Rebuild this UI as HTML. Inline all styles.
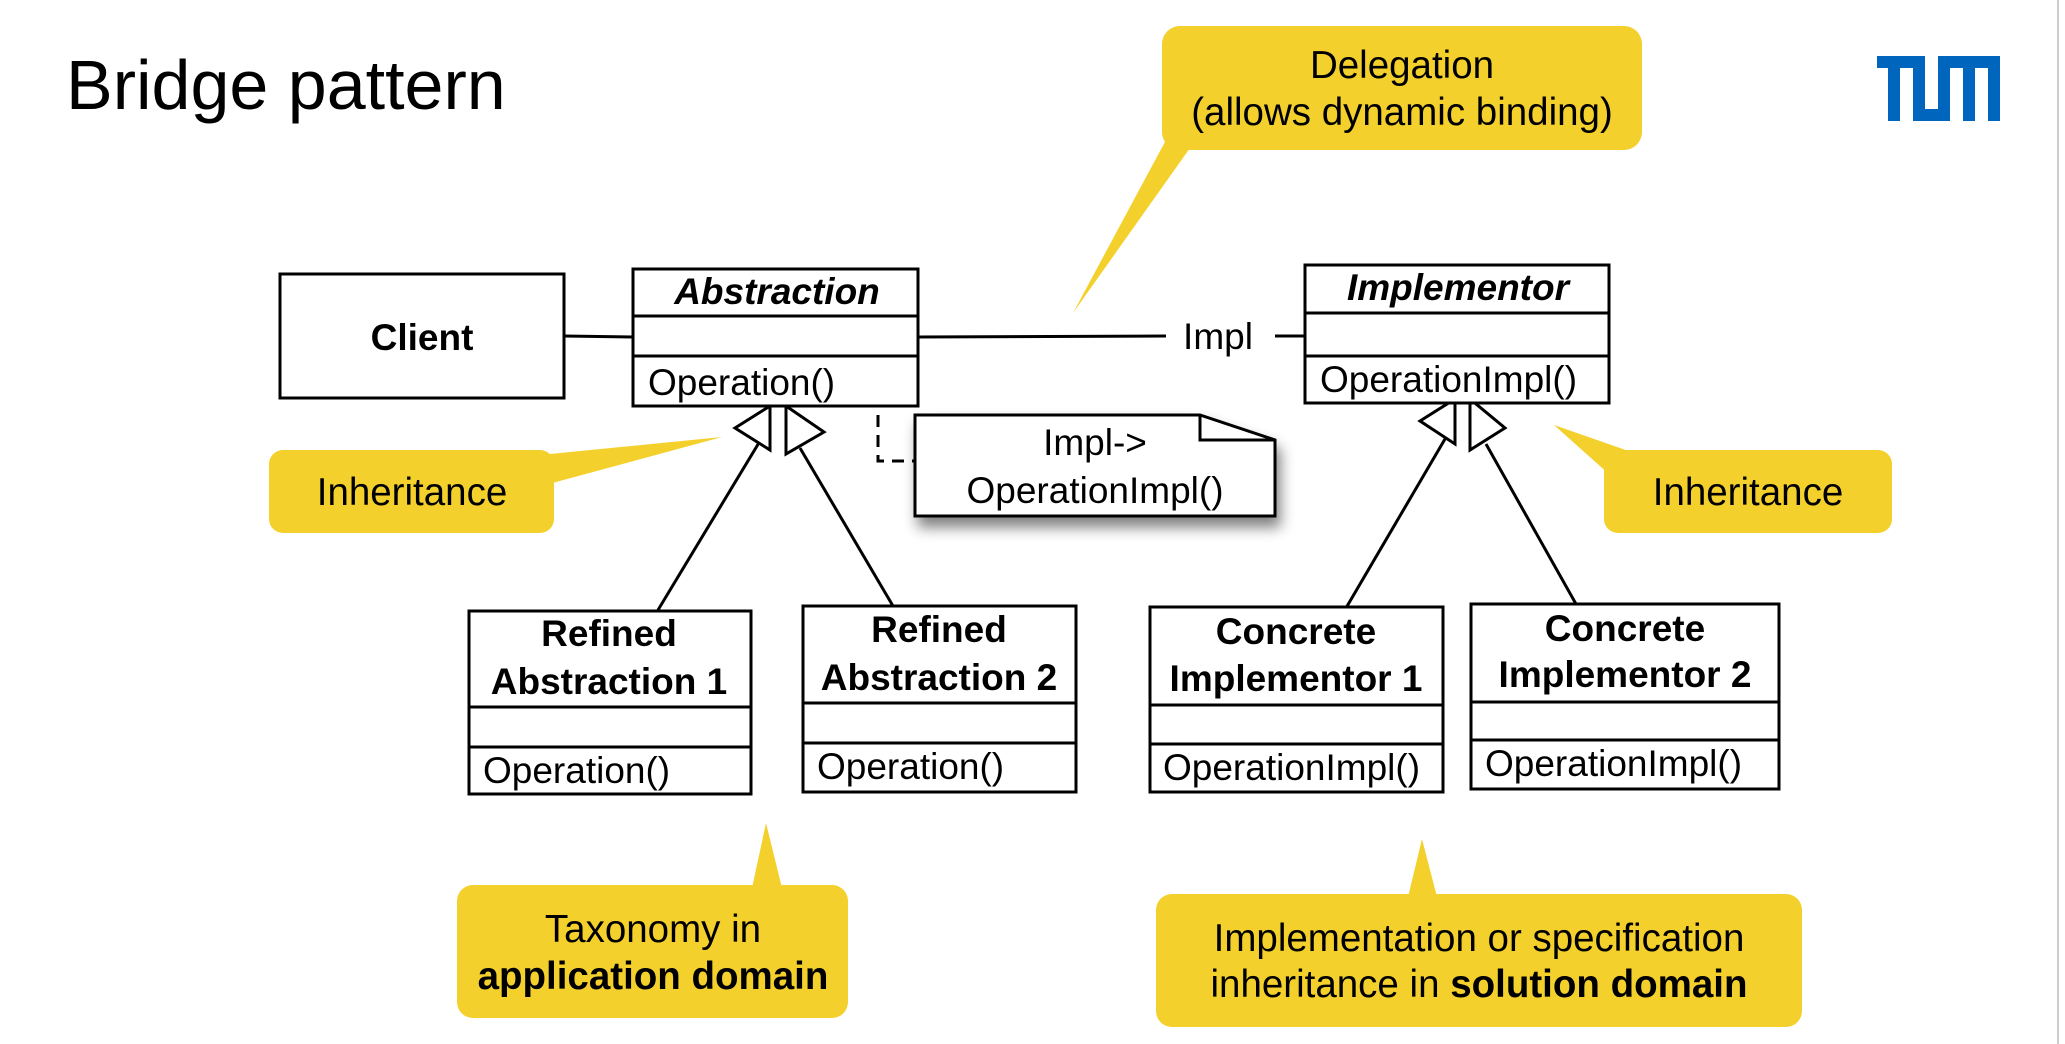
<!DOCTYPE html>
<html><head><meta charset="utf-8"><style>
html,body{margin:0;padding:0;background:#fff;}
svg{display:block;}
text{font-family:"Liberation Sans",Arial,sans-serif;}
</style></head><body>
<svg width="2065" height="1044" viewBox="0 0 2065 1044" xmlns="http://www.w3.org/2000/svg">
<defs>
<filter id="sh" x="-20%" y="-20%" width="150%" height="160%"><feGaussianBlur in="SourceAlpha" stdDeviation="7"/><feOffset dx="4" dy="10"/><feComponentTransfer><feFuncA type="linear" slope="0.5"/></feComponentTransfer><feMerge><feMergeNode/><feMergeNode in="SourceGraphic"/></feMerge></filter>
</defs>
<rect width="2065" height="1044" fill="#fff"/>
<line x1="2058" y1="0" x2="2058" y2="1044" stroke="#ccc" stroke-width="2"/>
<text x="66" y="109" font-size="70" fill="#000">Bridge pattern</text>
<g fill="#0065bd">
<rect x="1877" y="56" width="48" height="12"/>
<rect x="1888" y="56" width="12" height="65"/>
<rect x="1913" y="56" width="12" height="65"/>
<rect x="1913" y="109" width="37" height="12"/>
<rect x="1938" y="56" width="62" height="12"/>
<rect x="1938" y="56" width="12" height="65"/>
<rect x="1963" y="56" width="12" height="65"/>
<rect x="1988" y="56" width="12" height="65"/>
</g>
<g fill="#f4d02c">
<rect x="1162" y="26" width="480" height="124" rx="18"/>
<polygon points="1166,140 1190,148 1073,313"/>
<rect x="269" y="450" width="285" height="83" rx="14"/>
<polygon points="540,455 545,485 722,437"/>
<rect x="1604" y="450" width="288" height="83" rx="14"/>
<polygon points="1640,455 1610,475 1554,425"/>
<rect x="457" y="885" width="391" height="133" rx="16"/>
<polygon points="752,888 782,888 766,823"/>
<rect x="1156" y="894" width="646" height="133" rx="16"/>
<polygon points="1408,897 1437,897 1422,839"/>
</g>
<g font-size="38.5" fill="#000" text-anchor="middle">
<text x="1402" y="78">Delegation</text>
<text x="1402" y="125">(allows dynamic binding)</text>
<text x="412" y="505">Inheritance</text>
<text x="1748" y="505">Inheritance</text>
<text x="653" y="942">Taxonomy in</text>
<text x="653" y="989" font-weight="bold">application domain</text>
<text x="1479" y="951">Implementation or specification</text>
<text x="1479" y="997">inheritance in <tspan font-weight="bold">solution domain</tspan></text>
</g>
<g stroke="#000" stroke-width="3" fill="none">
<line x1="564" y1="336" x2="633" y2="337"/>
<line x1="918" y1="337" x2="1166" y2="336"/>
<line x1="1275" y1="336" x2="1306" y2="336"/>
<line x1="760" y1="441" x2="658" y2="610"/>
<line x1="800" y1="448" x2="893" y2="606"/>
<line x1="1445" y1="439" x2="1346" y2="608"/>
<line x1="1486" y1="444" x2="1576" y2="604"/>
<polyline points="878,395 878,461 915,461" stroke-dasharray="12,8"/>
<circle cx="878" cy="378" r="10" fill="#fff" stroke-width="2.5"/>
</g>
<g stroke="#000" stroke-width="3" fill="#fff">
<polygon points="770,406 770,450 735,428"/>
<polygon points="786,406 786,454 824,432"/>
<polygon points="1455,399 1455,444 1420,421"/>
<polygon points="1470,399 1470,450 1505,428"/>
</g>
<g filter="url(#sh)">
<path d="M915,415 L1200,415 L1275,440 L1275,516 L915,516 Z" fill="#fff" stroke="#000" stroke-width="3"/>
</g>
<path d="M1200,415 L1200,440 L1275,440" fill="none" stroke="#000" stroke-width="3"/>
<g font-size="37" text-anchor="middle" fill="#000">
<text x="1095" y="455">Impl-&gt;</text>
<text x="1095" y="503">OperationImpl()</text>
<text x="1218" y="349">Impl</text>
</g>
<g stroke="#000" stroke-width="3" fill="#fff">
<rect x="280" y="274" width="284" height="124"/>
<rect x="633" y="269" width="285" height="137"/>
<line x1="633" y1="316" x2="918" y2="316"/>
<line x1="633" y1="356" x2="918" y2="356"/>
<rect x="1305" y="265" width="304" height="138"/>
<line x1="1305" y1="313" x2="1609" y2="313"/>
<line x1="1305" y1="356" x2="1609" y2="356"/>
<rect x="469" y="611" width="282" height="183"/>
<line x1="469" y1="707" x2="751" y2="707"/>
<line x1="469" y1="747" x2="751" y2="747"/>
<rect x="803" y="606" width="273" height="186"/>
<line x1="803" y1="703" x2="1076" y2="703"/>
<line x1="803" y1="743" x2="1076" y2="743"/>
<rect x="1150" y="607" width="293" height="185"/>
<line x1="1150" y1="705" x2="1443" y2="705"/>
<line x1="1150" y1="744" x2="1443" y2="744"/>
<rect x="1471" y="604" width="308" height="185"/>
<line x1="1471" y1="702" x2="1779" y2="702"/>
<line x1="1471" y1="740" x2="1779" y2="740"/>
</g>
<g font-size="37" fill="#000">
<text x="422" y="350" text-anchor="middle" font-weight="bold">Client</text>
<text x="777" y="304" text-anchor="middle" font-weight="bold" font-style="italic">Abstraction</text>
<text x="648" y="395">Operation()</text>
<text x="1458" y="300" text-anchor="middle" font-weight="bold" font-style="italic">Implementor</text>
<text x="1320" y="392">OperationImpl()</text>
<g font-weight="bold" text-anchor="middle">
<text x="609" y="646">Refined</text>
<text x="609" y="694">Abstraction 1</text>
<text x="939" y="642">Refined</text>
<text x="939" y="690">Abstraction 2</text>
<text x="1296" y="644">Concrete</text>
<text x="1296" y="691">Implementor 1</text>
<text x="1625" y="641">Concrete</text>
<text x="1625" y="687">Implementor 2</text>
</g>
<text x="483" y="783">Operation()</text>
<text x="817" y="779">Operation()</text>
<text x="1163" y="780">OperationImpl()</text>
<text x="1485" y="776">OperationImpl()</text>
</g>
</svg>
</body></html>
